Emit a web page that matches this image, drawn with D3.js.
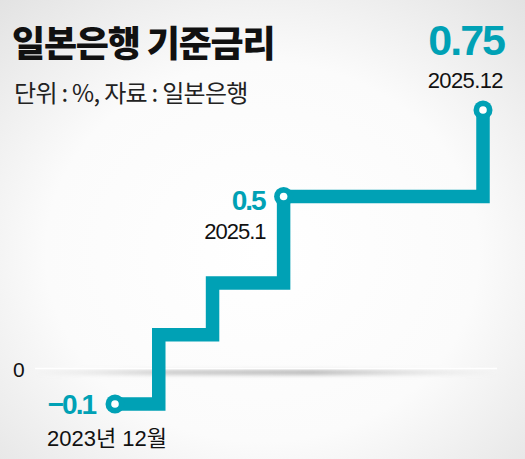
<!DOCTYPE html>
<html><head><meta charset="utf-8">
<script src="https://cdn.jsdelivr.net/npm/d3@7"></script>
<style>
html,body{margin:0;padding:0;background:#fff;}
svg{display:block;}
</style></head>
<body>
<svg id="c" width="525" height="459"></svg>
<script>
const title = "일본은행 기준금리";
const subtitle = "단위 : %, 자료 : 일본은행";
const dates = ["2023-12-01","2024-03-19","2024-07-31","2025-01-24","2025-12-19"];
const rates = [-0.1, 0.1, 0.25, 0.5, 0.75];
const zeroLabel = "0";
// labelled points: index, value text, date text
const labelIdx = [0, 3, 4];
const valueLabels = ["-0.1", "0.5", "0.75"];
const dateLabels = ["2023년 12월", "2025.1", "2025.12"];

const W = 525, H = 459;
const teal = "#00a1b5";
const svg = d3.select("#c");
const parse = d3.timeParse("%Y-%m-%d");
const data = dates.map((d,i)=>({date:parse(d), v:rates[i]}));

const defs = svg.append("defs");
const rg = defs.append("radialGradient").attr("id","bg").attr("cx","50%").attr("cy","55%").attr("r","75%");
rg.append("stop").attr("offset","0%").attr("stop-color","#ffffff");
rg.append("stop").attr("offset","55%").attr("stop-color","#fbfbfb");
rg.append("stop").attr("offset","100%").attr("stop-color","#e2e2e2");
svg.append("rect").attr("width",W).attr("height",H).attr("fill","url(#bg)");

const lg = defs.append("linearGradient").attr("id","zl").attr("x1","0%").attr("x2","100%");
lg.append("stop").attr("offset","0%").attr("stop-color","#bbb").attr("stop-opacity",0);
lg.append("stop").attr("offset","30%").attr("stop-color","#aaa").attr("stop-opacity",0.8);
lg.append("stop").attr("offset","60%").attr("stop-color","#999").attr("stop-opacity",0.9);
lg.append("stop").attr("offset","100%").attr("stop-color","#bbb").attr("stop-opacity",0);
defs.append("filter").attr("id","blur").attr("x","-10%").attr("y","-200%").attr("width","120%").attr("height","500%")
  .append("feGaussianBlur").attr("stdDeviation","0 2");

// scales
const x = d3.scaleTime()
  .domain([data[0].date, data[3].date, data[4].date])
  .range([115, 283.6, 483]);
const y = d3.scaleLinear().domain([-0.1, 0.75]).range([404, 110]);

// zero line
const z = y(0);
svg.append("rect").attr("x",35).attr("width",462).attr("y",z+1).attr("height",4)
  .attr("fill","url(#zl)").attr("filter","url(#blur)");
svg.append("line").attr("x1",35).attr("x2",497).attr("y1",z-1).attr("y2",z-1)
  .attr("stroke","#fff").attr("stroke-width",1.5);

svg.append("text").attr("x",13).attr("y",z+8).text(zeroLabel)
  .attr("font-family","Liberation Sans, Arial, sans-serif").attr("font-size",21).attr("fill","#111");

// step line
const line = d3.line().x(d=>x(d.date)).y(d=>y(d.v)).curve(d3.curveStepAfter);
svg.append("path").datum(data).attr("d",line).attr("fill","none")
  .attr("stroke",teal).attr("stroke-width",13.5).attr("stroke-linejoin","miter").attr("stroke-linecap","butt");

// markers
const pts = labelIdx.map(i=>data[i]);
svg.selectAll("circle.o").data(pts).join("circle").attr("class","o")
  .attr("cx",d=>x(d.date)).attr("cy",d=>y(d.v)).attr("r",9.5).attr("fill",teal);
svg.selectAll("circle.i").data(pts).join("circle").attr("class","i")
  .attr("cx",d=>x(d.date)).attr("cy",d=>y(d.v)).attr("r",3.8).attr("fill","#fff");

const numFont = "Liberation Sans, Arial, sans-serif";
// -0.1
const p0 = data[labelIdx[0]];
svg.append("text").attr("x",x(p0.date)-20).attr("y",y(p0.v)+10).attr("text-anchor","end")
  .text(valueLabels[0].replace("-","−")).attr("font-family",numFont).attr("font-weight","bold")
  .attr("font-size",28).attr("letter-spacing",-2).attr("fill",teal);
svg.append("text").attr("x",47).attr("y",y(p0.v)+42)
  .text(dateLabels[0]).attr("font-family",numFont+", Noto Sans CJK KR").attr("font-size",22)
  .attr("letter-spacing",0).attr("fill","#111");
// 0.5
const p1 = data[labelIdx[1]];
svg.append("text").attr("x",x(p1.date)-19).attr("y",y(p1.v)+14).attr("text-anchor","end")
  .text(valueLabels[1]).attr("font-family",numFont).attr("font-weight","bold")
  .attr("font-size",28).attr("letter-spacing",-2).attr("fill",teal);
svg.append("text").attr("x",x(p1.date)-18).attr("y",y(p1.v)+43).attr("text-anchor","end")
  .text(dateLabels[1]).attr("font-family",numFont).attr("font-size",22)
  .attr("letter-spacing",-1).attr("fill","#111");
// 0.75
const p2 = data[labelIdx[2]];
svg.append("text").attr("x",504).attr("y",55).attr("text-anchor","end")
  .text(valueLabels[2]).attr("font-family",numFont).attr("font-weight","bold")
  .attr("font-size",43).attr("letter-spacing",-2).attr("fill",teal);
svg.append("text").attr("x",503).attr("y",88).attr("text-anchor","end")
  .text(dateLabels[2]).attr("font-family",numFont).attr("font-size",22)
  .attr("letter-spacing",-0.6).attr("fill","#111");

// titles
svg.append("text").attr("x",12).attr("y",57).text(title)
  .attr("font-family","Noto Sans CJK KR").attr("font-weight",900).attr("font-size",36)
  .attr("letter-spacing",-1.2).attr("fill","#111");
svg.append("text").attr("x",14).attr("y",102).text(subtitle)
  .attr("font-family","Noto Sans CJK KR").attr("font-weight",400).attr("font-size",24)
  .attr("letter-spacing",-0.7).attr("fill","#222");
</script>
</body></html>
